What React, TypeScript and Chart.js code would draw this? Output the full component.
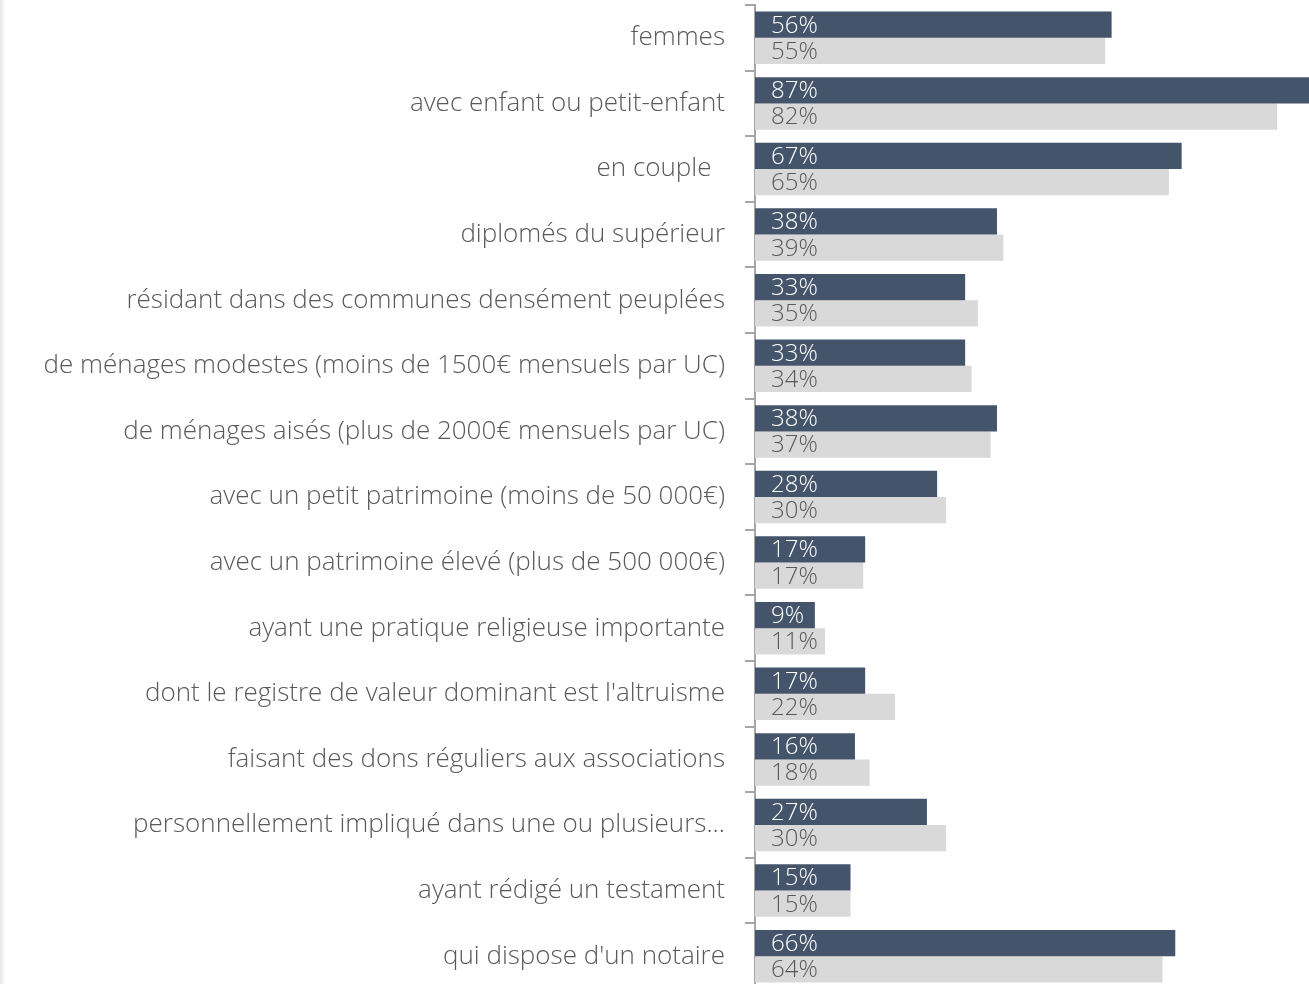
import React, { useEffect, useRef } from "react";
import { Chart, registerables } from "chart.js";

Chart.register(...registerables);

const categories = [
  "femmes",
  "avec enfant ou petit-enfant",
  "en couple  ",
  "diplomés du supérieur",
  "résidant dans des communes densément peuplées",
  "de ménages modestes (moins de 1500€ mensuels par UC)",
  "de ménages aisés (plus de 2000€ mensuels par UC)",
  "avec un petit patrimoine (moins de 50 000€)",
  "avec un patrimoine élevé (plus de 500 000€)",
  "ayant une pratique religieuse importante",
  "dont le registre de valeur dominant est l'altruisme",
  "faisant des dons réguliers aux associations",
  "personnellement impliqué dans une ou plusieurs...",
  "ayant rédigé un testament",
  "qui dispose d'un notaire",
];

const seriesA = [56, 87, 67, 38, 33, 33, 38, 28.6, 17.3, 9.4, 17.3, 15.7, 27, 15, 66];
const seriesB = [55, 82, 65, 39, 35, 34, 37, 30, 17, 11, 22, 18, 30, 15, 64];

const labelsA = ["56%", "87%", "67%", "38%", "33%", "33%", "38%", "28%", "17%", "9%", "17%", "16%", "27%", "15%", "66%"];
const labelsB = ["55%", "82%", "65%", "39%", "35%", "34%", "37%", "30%", "17%", "11%", "22%", "18%", "30%", "15%", "64%"];

const FONT = "'Open Sans', Lato, sans-serif";

const valueLabelPlugin = {
  id: "valueLabels",
  afterDatasetsDraw(chart: any) {
    const ctx = chart.ctx;
    ctx.save();
    ctx.font = `300 24px ${FONT}`;
    ctx.textAlign = "left";
    ctx.textBaseline = "middle";
    chart.data.datasets.forEach((ds: any, di: number) => {
      const meta = chart.getDatasetMeta(di);
      const labels = di === 0 ? labelsA : labelsB;
      ctx.fillStyle = di === 0 ? "#ffffff" : "#595959";
      meta.data.forEach((el: any, i: number) => {
        ctx.fillText(labels[i], el.base + 16, el.y + 1);
      });
    });
    ctx.restore();
  },
};

export default function App() {
  const ref = useRef<HTMLCanvasElement | null>(null);

  useEffect(() => {
    document.body.style.margin = "0";
    document.body.style.overflow = "hidden";
    document.documentElement.style.overflow = "hidden";
    if (!ref.current) return;
    const chart = new Chart(ref.current, {
      type: "bar",
      data: {
        labels: categories,
        datasets: [
          {
            label: "A",
            data: seriesA,
            backgroundColor: "#44546a",
            borderWidth: 0,
            categoryPercentage: 0.8,
            barPercentage: 1.0,
          },
          {
            label: "B",
            data: seriesB,
            backgroundColor: "#d9d9d9",
            borderWidth: 0,
            categoryPercentage: 0.8,
            barPercentage: 1.0,
          },
        ],
      },
      options: {
        indexAxis: "y",
        animation: false,
        responsive: true,
        maintainAspectRatio: false,
        layout: { padding: { top: 5, bottom: 1, left: 0, right: 0 } },
        plugins: {
          legend: { display: false },
          tooltip: { enabled: false },
        },
        scales: {
          x: {
            display: false,
            min: 0,
            max: 87,
          },
          y: {
            afterFit(scale: any) {
              scale.width = 755;
              scale.paddingTop = 0;
              scale.paddingBottom = 0;
            },
            grid: {
              display: true,
              drawOnChartArea: false,
              drawTicks: true,
              tickLength: 10,
              color: "#a6a6a6",
              lineWidth: 2,
              offset: true,
            },
            border: { display: true, color: "#a6a6a6", width: 2 },
            ticks: {
              color: "#595959",
              padding: 20,
              font: { family: FONT, size: 26, weight: "300" as any },
              autoSkip: false,
            },
          },
        },
      },
      plugins: [valueLabelPlugin],
    });
    return () => chart.destroy();
  }, []);

  return (
    <div style={{ position: "relative", width: 1309, height: 990 }}>
      <div
        style={{
          position: "absolute",
          left: 0,
          top: 0,
          width: 4,
          height: 984,
          background: "linear-gradient(to right, #e6e6e6, #f8f8f8)",
        }}
      />
      <canvas ref={ref} />
    </div>
  );
}
